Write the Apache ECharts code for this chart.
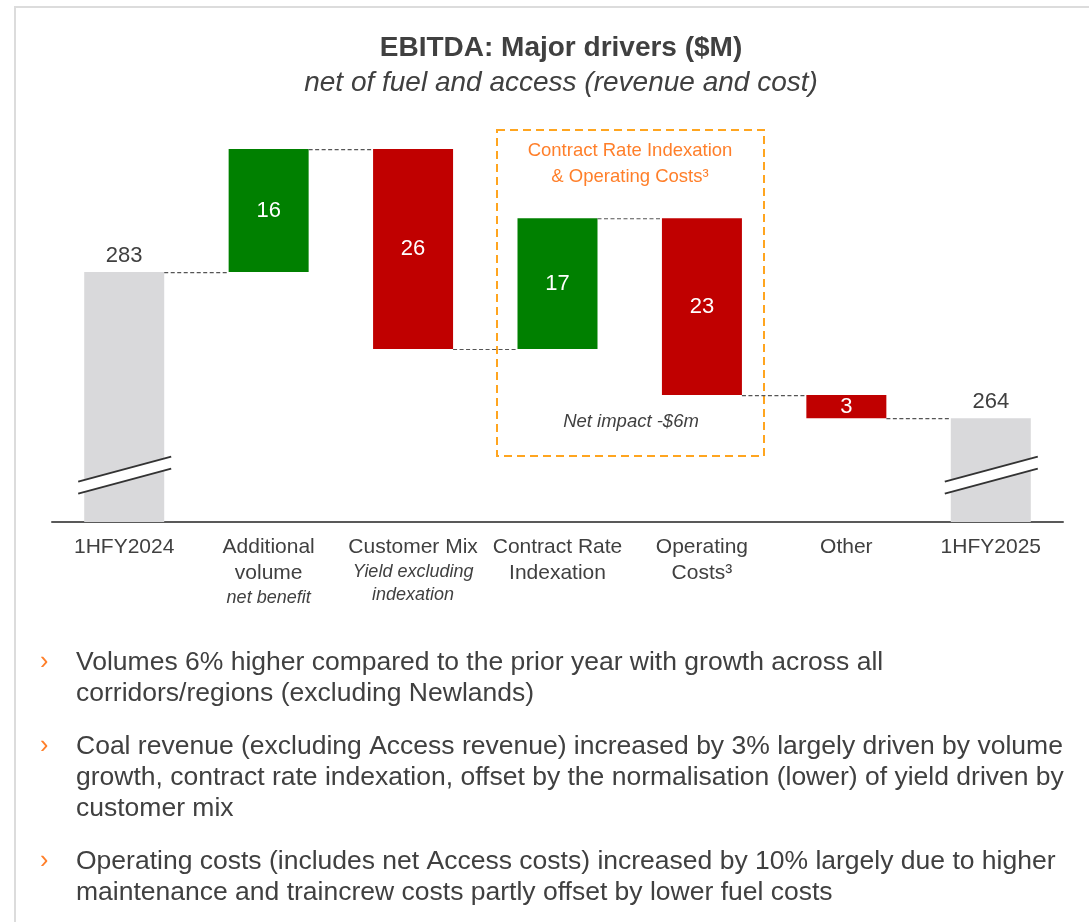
<!DOCTYPE html>
<html>
<head>
<meta charset="utf-8">
<script src="https://cdn.jsdelivr.net/npm/echarts@6/dist/echarts.min.js"></script>
<style>
  html, body { margin: 0; padding: 0; background: #fff; }
  #chart { width: 1089px; height: 922px; }
</style>
</head>
<body>
<div id="chart"></div>
<script>
// categories (rich text for the italic sub lines)
var categories = [
  '1HFY2024',
  'Additional\nvolume\n{i|net benefit}',
  'Customer Mix\n{i|Yield excluding}\n{i|indexation}',
  'Contract Rate\nIndexation',
  'Operating\nCosts\u00b3',
  'Other',
  '1HFY2025'
];
var startValue = 283;
var deltas = [16, -26, 17, -23, -3];
var endValue = 264;
var breakValue = 256.6;

var bullets = [
  ['Volumes 6% higher compared to the prior year with growth across all',
   'corridors/regions (excluding Newlands)'],
  ['Coal revenue (excluding Access revenue) increased by 3% largely driven by volume',
   'growth, contract rate indexation, offset by the normalisation (lower) of yield driven by',
   'customer mix'],
  ['Operating costs (includes net Access costs) increased by 10% largely due to higher',
   'maintenance and traincrew costs partly offset by lower fuel costs']
];

var FONT = '"Liberation Sans", Arial, sans-serif';
var GRAY = '#d9d9db', GREEN = '#008000', RED = '#c00000', TXT = '#404040', ORANGE = '#ff7f2a';

// build waterfall stacks
var base = ['-'];
var visible = [{ value: startValue, itemStyle: { color: GRAY }, label: { position: 'top', color: TXT, formatter: '{c}' } }];
var levels = [startValue];
var running = startValue;
deltas.forEach(function (d) {
  if (d > 0) {
    base.push(running);
  } else {
    base.push(running + d);
  }
  visible.push({ value: Math.abs(d), itemStyle: { color: d > 0 ? GREEN : RED } });
  running += d;
  levels.push(running);
});
base.push('-');
visible.push({ value: endValue, itemStyle: { color: GRAY }, label: { position: 'top', color: TXT, formatter: '{c}' } });

var connectors = levels.map(function (v, i) { return [i, v]; });

var chart = echarts.init(document.getElementById('chart'));

var graphics = [
  { type: 'rect', shape: { x: 15, y: 7, width: 1200, height: 1000 }, style: { fill: 'none', stroke: '#dcdcdc', lineWidth: 2 }, silent: true },
  { type: 'text', style: { text: 'EBITDA: Major drivers ($M)', x: 561, y: 48, font: 'bold 28px ' + FONT, fill: TXT, textAlign: 'center', textVerticalAlign: 'middle' } },
  { type: 'text', style: { text: 'net of fuel and access (revenue and cost)', x: 561, y: 83, font: 'italic 28px ' + FONT, fill: TXT, textAlign: 'center', textVerticalAlign: 'middle' } },
  { type: 'rect', shape: { x: 497, y: 130, width: 267, height: 326 }, style: { fill: 'none', stroke: '#ffa51f', lineWidth: 2, lineDash: [8, 5] }, silent: true },
  { type: 'text', style: { text: 'Contract Rate Indexation', x: 630, y: 151, font: '18.5px ' + FONT, fill: ORANGE, textAlign: 'center', textVerticalAlign: 'middle' } },
  { type: 'text', style: { text: '& Operating Costs\u00b3', x: 630, y: 177, font: '18.5px ' + FONT, fill: ORANGE, textAlign: 'center', textVerticalAlign: 'middle' } },
  { type: 'text', style: { text: 'Net impact -$6m', x: 631, y: 422, font: 'italic 18.5px ' + FONT, fill: TXT, textAlign: 'center', textVerticalAlign: 'middle' } }
];

var y = 663;
bullets.forEach(function (lines) {
  graphics.push({ type: 'text', style: { text: '\u203a', x: 40, y: y - 1, font: '25px ' + FONT, fill: ORANGE, textVerticalAlign: 'middle' } });
  lines.forEach(function (line) {
    graphics.push({ type: 'text', style: { text: line, x: 76, y: y, font: '26.5px ' + FONT, fill: TXT, textVerticalAlign: 'middle' } });
    y += 31;
  });
  y += 22;
});

var option = {
  animation: false,
  textStyle: { fontFamily: FONT },
  grid: { left: 52, right: 26, top: 101, bottom: 400 },
  xAxis: {
    type: 'category',
    data: categories,
    axisLine: { lineStyle: { color: '#595959', width: 2 } },
    axisTick: { show: false },
    axisLabel: {
      interval: 0,
      margin: 12,
      color: TXT,
      fontSize: 21,
      lineHeight: 26,
      rich: {
        i: { fontSize: 18, fontStyle: 'italic', lineHeight: 23, color: TXT }
      }
    }
  },
  yAxis: {
    type: 'value',
    min: 250.5,
    max: 305.25,
    show: false
  },
  series: [
    {
      name: 'base',
      type: 'bar',
      stack: 'wf',
      barWidth: 80,
      silent: true,
      itemStyle: { color: 'transparent' },
      data: base
    },
    {
      name: 'value',
      type: 'bar',
      stack: 'wf',
      barWidth: 80,
      label: {
        show: true,
        position: 'inside',
        color: '#fff',
        fontSize: 22,
        distance: 5
      },
      data: visible
    },
    {
      name: 'connectors',
      type: 'custom',
      silent: true,
      z: 5,
      data: connectors,
      renderItem: function (params, api) {
        var i = api.value(0);
        if (i >= categories.length - 1) return;
        var lv = api.value(1);
        var p1 = api.coord([i, lv]);
        var p2 = api.coord([i + 1, lv]);
        return {
          type: 'line',
          shape: { x1: p1[0] + 40, y1: p1[1] + 0.5, x2: p2[0] - 40, y2: p2[1] + 0.5 },
          style: { stroke: '#555', lineWidth: 1.2, lineDash: [4, 2.5] }
        };
      }
    },
    {
      name: 'breaks',
      type: 'custom',
      silent: true,
      z: 6,
      data: [[0, breakValue], [categories.length - 1, breakValue]],
      renderItem: function (params, api) {
        var c = api.coord([api.value(0), api.value(1)]);
        var l = c[0] - 46, r = c[0] + 47;
        return {
          type: 'group',
          children: [
            { type: 'polygon', shape: { points: [[l, c[1] + 6.5], [r, c[1] - 18.5], [r, c[1] - 6.5], [l, c[1] + 18.5]] }, style: { fill: '#fff' } },
            { type: 'line', shape: { x1: l, y1: c[1] + 6.5, x2: r, y2: c[1] - 18.5 }, style: { stroke: '#333', lineWidth: 2 } },
            { type: 'line', shape: { x1: l, y1: c[1] + 18.5, x2: r, y2: c[1] - 6.5 }, style: { stroke: '#333', lineWidth: 2 } }
          ]
        };
      }
    }
  ],
  graphic: graphics
};
chart.setOption(option);
</script>
</body>
</html>
